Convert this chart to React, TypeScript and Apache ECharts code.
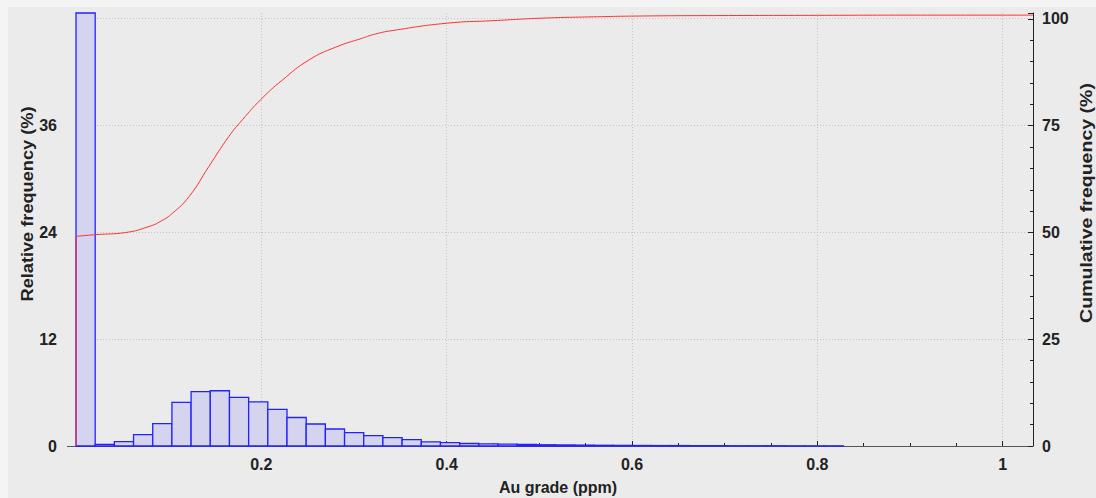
import React, { useEffect, useRef } from "react";
import * as echarts from "echarts";

// Histogram: bin width (ppm) and relative frequency (%) of each bin, starting at 0
const binWidth = 0.0207;
const relFreq = [
  49.5, 0.19, 0.49, 1.28, 2.52, 4.9, 6.1, 6.2, 5.45, 4.95, 4.1, 3.2, 2.47, 1.91,
  1.5, 1.17, 0.95, 0.72, 0.47, 0.39, 0.28, 0.24, 0.2, 0.17, 0.14, 0.12, 0.1,
  0.08, 0.07, 0.06, 0.05, 0.05, 0.04, 0.04, 0.03, 0.03, 0.03, 0.02, 0.02, 0.02,
];

// Cumulative frequency curve (%)
const cumX = [
  0, 0.0213, 0.0536, 0.0788, 0.092, 0.104, 0.122, 0.1435, 0.165, 0.1796, 0.1993,
  0.2227, 0.2514, 0.2802, 0.309, 0.3234, 0.342, 0.3997, 0.45, 0.504, 0.558,
  0.612, 0.695, 0.8, 0.9, 1.0327,
];
const cumY = [
  49.1, 49.5, 50.0, 51.4, 52.7, 54.5, 58.4, 65.5, 72.5, 76.4, 81.1, 85.7, 90.4,
  93.4, 95.5, 96.5, 97.3, 99.0, 99.6, 100.2, 100.5, 100.7, 100.8, 100.85, 100.9, 100.9,
];
const jumpX = [0, 0];
const jumpY = [0, 49.1];

const xMax = 1.0327;
const leftMax = 48.6;
const rightMax = 101.4;

const labelFont = { fontFamily: "Liberation Sans, Arial, sans-serif", fontWeight: "bold" as const, color: "#222" };

export default function App() {
  const ref = useRef<HTMLDivElement>(null);
  useEffect(() => {
    const chart = echarts.init(ref.current!, null, { renderer: "svg" });
    const bins = relFreq.map((v, i) => [i * binWidth, (i + 1) * binWidth, v]);
    const isMult = (v: number, step: number) => Math.abs(v / step - Math.round(v / step)) < 1e-6;

    const option: any = {
      animation: false,
      backgroundColor: "#ebebeb",
      grid: { left: 76, right: 63, top: 13, bottom: 52 },
      xAxis: {
        type: "value",
        min: 0,
        max: xMax,
        interval: 0.2,
        axisLine: { lineStyle: { color: "#555", width: 1 } },
        axisTick: { inside: true, length: 5, lineStyle: { color: "#222" } },
        minorTick: { show: true, splitNumber: 4, length: 3, lineStyle: { color: "#222" } },
        axisLabel: {
          ...labelFont,
          fontSize: 16,
          margin: 10,
          formatter: (v: number) => (v === 0 || !isMult(v, 0.2) ? "" : String(+v.toFixed(1))),
        },
        splitLine: { show: true, showMinLine: false, showMaxLine: false, lineStyle: { type: [1, 2], color: "#c4c4c4" } },
      },
      yAxis: [
        {
          type: "value",
          position: "left",
          offset: 9,
          min: 0,
          max: leftMax,
          interval: 12,
          axisLine: { show: true, lineStyle: { color: "#222", width: 1 } },
          axisTick: { show: true, inside: true, length: 5, lineStyle: { color: "#222" } },
          minorTick: { show: true, splitNumber: 5, length: 3, lineStyle: { color: "#222" } },
          axisLabel: {
            ...labelFont,
            fontSize: 16,
            margin: 10,
            formatter: (v: number) => (isMult(v, 12) && v < 48 ? String(v) : ""),
          },
          splitLine: { show: true, showMinLine: false, showMaxLine: false, lineStyle: { type: [1, 2], color: "#c4c4c4" } },
        },
        {
          type: "value",
          position: "right",
          min: 0,
          max: rightMax,
          interval: 25,
          axisLine: { show: true, lineStyle: { color: "#222", width: 1 } },
          axisTick: { show: true, inside: true, length: 5, lineStyle: { color: "#222" } },
          minorTick: { show: true, splitNumber: 5, length: 3, lineStyle: { color: "#222" } },
          axisLabel: {
            ...labelFont,
            fontSize: 16,
            margin: 9,
            formatter: (v: number) => (isMult(v, 25) ? String(v) : ""),
          },
          splitLine: { show: false },
        },
      ],
      series: [
        {
          type: "custom",
          xAxisIndex: 0,
          yAxisIndex: 0,
          data: bins,
          renderItem: (params: any, api: any) => {
            const p0 = api.coord([api.value(0), api.value(2)]);
            const p1 = api.coord([api.value(1), 0]);
            const rect = echarts.graphic.clipRectByRect(
              { x: p0[0], y: p0[1], width: p1[0] - p0[0], height: p1[1] - p0[1] },
              {
                x: params.coordSys.x,
                y: params.coordSys.y,
                width: params.coordSys.width,
                height: params.coordSys.height,
              }
            );
            if (!rect) return null;
            return {
              type: "rect",
              shape: rect,
              style: { fill: "#d4d4ee", stroke: "#2222ff", lineWidth: 1.3 },
            };
          },
          z: 2,
        },
        {
          type: "line",
          yAxisIndex: 1,
          data: jumpX.map((x, i) => [x, jumpY[i]]),
          showSymbol: false,
          lineStyle: { color: "#ff3030", width: 1 },
          z: 3,
        },
        {
          type: "line",
          yAxisIndex: 1,
          data: cumX.map((x, i) => [x, cumY[i]]),
          showSymbol: false,
          smooth: 0.5,
          lineStyle: { color: "#ff3030", width: 1 },
          z: 3,
        },
      ],
      graphic: [
        { type: "rect", left: 0, top: 0, shape: { width: 1096, height: 7 }, style: { fill: "#f4f4f4" }, silent: true },
        { type: "rect", left: 0, top: 0, shape: { width: 8, height: 498 }, style: { fill: "#f4f4f4" }, silent: true },
        { type: "line", shape: { x1: 67, y1: 446.5, x2: 76, y2: 446.5 }, style: { stroke: "#555", lineWidth: 1 } },
        {
          type: "text",
          x: 558,
          y: 487,
          style: { text: "Au grade (ppm)", ...labelFont, fill: "#222", fontSize: 16, textAlign: "center", textVerticalAlign: "middle" },
        },
        {
          type: "text",
          x: 27,
          y: 204,
          rotation: Math.PI / 2,
          scaleX: 1.07,
          style: { text: "Relative frequency (%)", ...labelFont, fill: "#222", fontSize: 17, textAlign: "center", textVerticalAlign: "middle" },
        },
        {
          type: "text",
          x: 1086,
          y: 203,
          rotation: Math.PI / 2,
          scaleX: 1.15,
          style: { text: "Cumulative frequency (%)", ...labelFont, fill: "#222", fontSize: 17, textAlign: "center", textVerticalAlign: "middle" },
        },
      ],
    };
    chart.setOption(option);
    return () => chart.dispose();
  }, []);
  return <div ref={ref} style={{ position: "fixed", left: 0, top: 0, width: 1096, height: 498 }} />;
}
